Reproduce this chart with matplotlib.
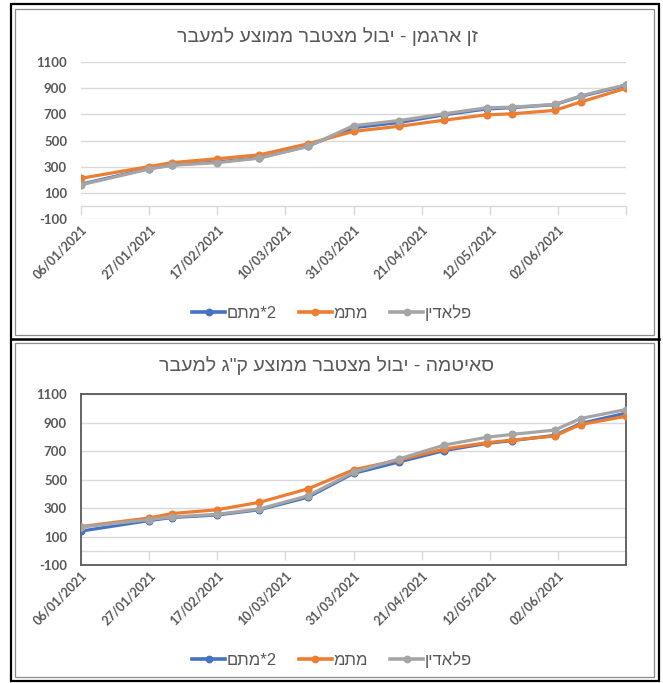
import datetime as dt

import matplotlib
matplotlib.use("Agg")
import matplotlib.pyplot as plt
from matplotlib.lines import Line2D
from matplotlib.patches import Rectangle

# ---------------------------------------------------------------- data
sample_dates = ["2021-01-06", "2021-01-27", "2021-02-03", "2021-02-17",
                "2021-03-02", "2021-03-17", "2021-03-31", "2021-04-14",
                "2021-04-28", "2021-05-11", "2021-05-19", "2021-06-01",
                "2021-06-09", "2021-06-23"]

series_names = ["2*מתם", "מתמ", "פלאדין"]

# Zen Argaman
argaman_metam2 = [165, 285, 312, 335, 368, 458, 598, 638, 697, 742, 752, 775, 838, 922]
argaman_metam = [210, 300, 330, 360, 390, 475, 570, 609, 656, 697, 705, 731, 795, 901]
argaman_paladin = [160, 281, 310, 330, 365, 454, 614, 653, 705, 751, 756, 777, 842, 928]

# Saitama
saitama_metam2 = [140, 214, 235, 253, 290, 378, 545, 625, 705, 755, 775, 812, 895, 968]
saitama_metam = [172, 232, 263, 290, 342, 437, 570, 639, 716, 760, 779, 807, 888, 946]
saitama_paladin = [168, 221, 239, 258, 295, 388, 553, 646, 744, 798, 819, 849, 930, 993]

tick_dates = ["2021-01-06", "2021-01-27", "2021-02-17", "2021-03-10",
              "2021-03-31", "2021-04-21", "2021-05-12", "2021-06-02",
              "2021-06-23"]
tick_labels = ["06/01/2021", "27/01/2021", "17/02/2021", "10/03/2021",
               "31/03/2021", "21/04/2021", "12/05/2021", "02/06/2021", ""]

y_ticks = [-100, 100, 300, 500, 700, 900, 1100]

title_argaman = "זן ארגמן - יבול מצטבר ממוצע למעבר"
title_saitama = 'סאיטמה - יבול מצטבר ממוצע ק"ג למעבר'

colors = ["#4472C4", "#ED7D31", "#A5A5A5"]
TEXT = "#595959"
GRID = "#D9D9D9"
HEB_FONT = ["Liberation Sans", "DejaVu Sans"]
NUM_FONT = ["Lato", "DejaVu Sans"]


def visual(text):
    """Lay out a right-to-left string in display order (left to right),
    keeping runs of digits in their own order."""
    runs, cur, cur_digit = [], "", None
    for ch in text:
        d = ch.isdigit()
        if cur and d != cur_digit:
            runs.append((cur, cur_digit))
            cur = ""
        cur += ch
        cur_digit = d
    if cur:
        runs.append((cur, cur_digit))
    out = []
    for run, dig in reversed(runs):
        out.append(run if dig else run[::-1])
    return "".join(out)


def to_date(s):
    return dt.datetime.strptime(s, "%Y-%m-%d")


xs = [to_date(s) for s in sample_dates]
xt = [to_date(s) for s in tick_dates]

W, H = 663, 683
fig = plt.figure(figsize=(W / 100, H / 100), dpi=100)
fig.patch.set_facecolor("white")


def frac_box(x0, y0, x1, y1):
    return [x0 / W, 1 - y1 / H, (x1 - x0) / W, (y1 - y0) / H]


def panel_frame(x0, y0, x1, y1, color, lw):
    fig.add_artist(Rectangle((x0 / W, 1 - y1 / H), (x1 - x0) / W, (y1 - y0) / H,
                             transform=fig.transFigure, fill=False,
                             edgecolor=color, linewidth=lw))


def draw_chart(rect, values, title, title_y, legend_y, framed):
    ax = fig.add_axes(frac_box(*rect))
    ax.set_facecolor("white")
    for vals, c, name in zip(values, colors, series_names):
        ax.plot(xs, vals, color=c, lw=2.3, marker="o", ms=4.8,
                markeredgecolor=c, markerfacecolor=c, label=name,
                solid_joinstyle="round", zorder=3)

    ax.set_xlim(xt[0], xt[-1])
    ax.set_ylim(y_ticks[0], y_ticks[-1])
    ax.set_yticks(y_ticks)
    ax.set_yticklabels([str(v) for v in y_ticks])
    ax.grid(axis="y", color=GRID, lw=1.0, zorder=0)
    ax.set_axisbelow(True)

    ax.set_xticks(xt)
    ax.set_xticklabels(tick_labels)
    ax.tick_params(axis="x", length=0, pad=3)
    ax.tick_params(axis="y", length=0, pad=10)
    for lab in ax.get_xticklabels():
        lab.set_rotation(45)
        lab.set_ha("right")
        lab.set_rotation_mode("anchor")
        lab.set_fontsize(9.0)
        lab.set_color(TEXT)
        lab.set_family(NUM_FONT)
        lab.set_weight("bold")
    for lab in ax.get_yticklabels():
        lab.set_fontsize(9.5)
        lab.set_color(TEXT)
        lab.set_family(NUM_FONT)
        lab.set_weight("bold")

    for side in ["left", "right", "top", "bottom"]:
        sp = ax.spines[side]
        if framed:
            sp.set_color("#595959")
            sp.set_linewidth(1.3)
        else:
            sp.set_visible(False)

    # category axis crossing at zero, tick marks pointing down
    zero_loc = (0 - y_ticks[0]) / (y_ticks[-1] - y_ticks[0])
    sec = ax.secondary_xaxis(zero_loc)
    sec.set_xticks(xt)
    sec.set_xticklabels([""] * len(xt))
    sec.tick_params(axis="x", direction="out", length=6.5, color=GRID, width=1)
    sec.spines["bottom"].set_color(GRID)
    sec.spines["bottom"].set_linewidth(1.0)

    fig.text(327 / W, 1 - title_y / H, visual(title), ha="center", va="center",
             fontsize=14, color=TEXT, family=HEB_FONT)

    handles = [Line2D([], [], color=c, lw=2.6, marker="o", ms=4.6) for c in colors]
    labels = [visual(n) for n in series_names]
    leg = fig.legend(handles, labels, loc="center", ncol=3,
                     bbox_to_anchor=(332 / W, 1 - legend_y / H),
                     frameon=False, handlelength=2.0, handletextpad=0.1,
                     columnspacing=1.3,
                     prop={"family": HEB_FONT, "size": 12})
    for t in leg.get_texts():
        t.set_color(TEXT)
    return ax


# panel borders
panel_frame(11, 4, 659, 681, "black", 1.6)
fig.add_artist(Line2D([11 / W, 659 / W], [1 - 339 / H, 1 - 339 / H],
                      transform=fig.transFigure, color="black", lw=1.8))
panel_frame(15, 9, 654, 335, "#8C8C8C", 0.9)
panel_frame(15, 343, 654, 677, "#8C8C8C", 0.9)

draw_chart((81, 62.3, 626, 218.7),
           [argaman_metam2, argaman_metam, argaman_paladin],
           title_argaman, 37, 313, framed=False)
draw_chart((81, 394.3, 626, 565.3),
           [saitama_metam2, saitama_metam, saitama_paladin],
           title_saitama, 366, 660, framed=True)

fig.savefig("out.png", dpi=100, facecolor="white")
